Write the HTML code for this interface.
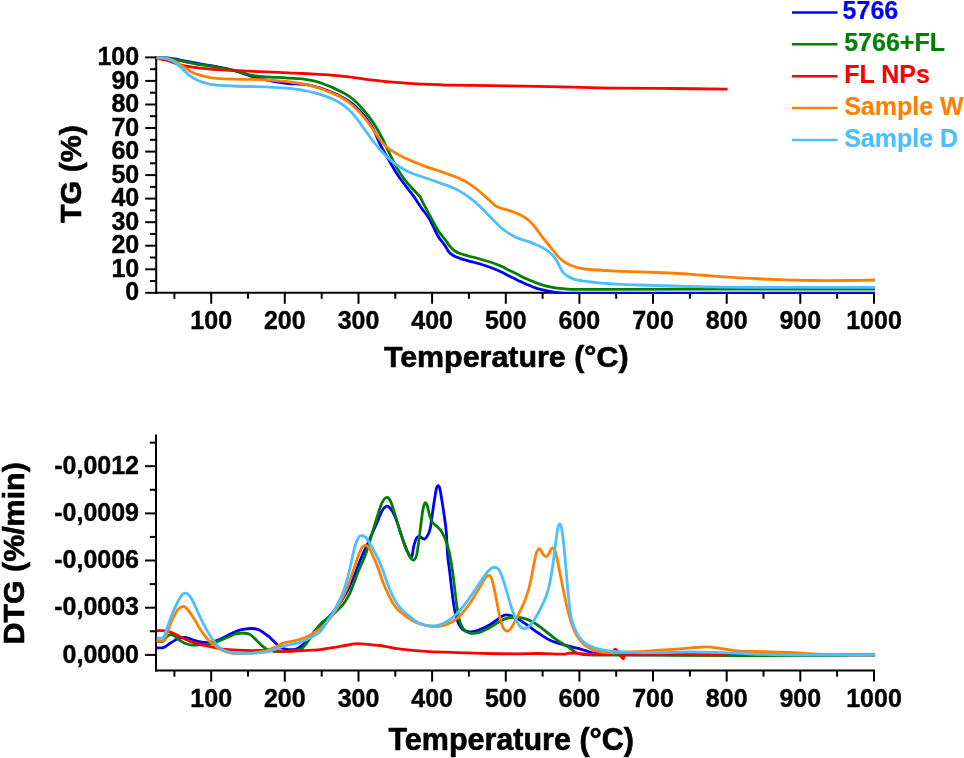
<!DOCTYPE html><html><head><meta charset="utf-8"><title>TG / DTG</title>
<style>html,body{margin:0;padding:0;background:#fff}svg{display:block;filter:blur(0.35px)}</style></head><body>
<svg width="964" height="758" viewBox="0 0 964 758">
<rect width="964" height="758" fill="#fff"/>
<g stroke="#000" stroke-width="2" fill="none"><line x1="174.4" y1="292.8" x2="174.4" y2="298.8"/><line x1="211.2" y1="292.8" x2="211.2" y2="303.8"/><line x1="248.0" y1="292.8" x2="248.0" y2="298.8"/><line x1="284.8" y1="292.8" x2="284.8" y2="303.8"/><line x1="321.7" y1="292.8" x2="321.7" y2="298.8"/><line x1="358.5" y1="292.8" x2="358.5" y2="303.8"/><line x1="395.3" y1="292.8" x2="395.3" y2="298.8"/><line x1="432.1" y1="292.8" x2="432.1" y2="303.8"/><line x1="468.9" y1="292.8" x2="468.9" y2="298.8"/><line x1="505.8" y1="292.8" x2="505.8" y2="303.8"/><line x1="542.6" y1="292.8" x2="542.6" y2="298.8"/><line x1="579.4" y1="292.8" x2="579.4" y2="303.8"/><line x1="616.2" y1="292.8" x2="616.2" y2="298.8"/><line x1="653.0" y1="292.8" x2="653.0" y2="303.8"/><line x1="689.9" y1="292.8" x2="689.9" y2="298.8"/><line x1="726.7" y1="292.8" x2="726.7" y2="303.8"/><line x1="763.5" y1="292.8" x2="763.5" y2="298.8"/><line x1="800.3" y1="292.8" x2="800.3" y2="303.8"/><line x1="837.1" y1="292.8" x2="837.1" y2="298.8"/><line x1="874.0" y1="292.8" x2="874.0" y2="303.8"/><line x1="145.2" y1="269.3" x2="156.2" y2="269.3"/><line x1="145.2" y1="245.7" x2="156.2" y2="245.7"/><line x1="145.2" y1="222.2" x2="156.2" y2="222.2"/><line x1="145.2" y1="198.6" x2="156.2" y2="198.6"/><line x1="145.2" y1="175.1" x2="156.2" y2="175.1"/><line x1="145.2" y1="151.6" x2="156.2" y2="151.6"/><line x1="145.2" y1="128.0" x2="156.2" y2="128.0"/><line x1="145.2" y1="104.5" x2="156.2" y2="104.5"/><line x1="145.2" y1="80.9" x2="156.2" y2="80.9"/><line x1="145.2" y1="57.4" x2="156.2" y2="57.4"/><line x1="150.0" y1="281.0" x2="156.2" y2="281.0"/><line x1="150.0" y1="257.5" x2="156.2" y2="257.5"/><line x1="150.0" y1="234.0" x2="156.2" y2="234.0"/><line x1="150.0" y1="210.4" x2="156.2" y2="210.4"/><line x1="150.0" y1="186.9" x2="156.2" y2="186.9"/><line x1="150.0" y1="163.3" x2="156.2" y2="163.3"/><line x1="150.0" y1="139.8" x2="156.2" y2="139.8"/><line x1="150.0" y1="116.2" x2="156.2" y2="116.2"/><line x1="150.0" y1="92.7" x2="156.2" y2="92.7"/><line x1="150.0" y1="69.2" x2="156.2" y2="69.2"/><line x1="156.2" y1="56.4" x2="156.2" y2="293.8"/><line x1="155.2" y1="292.8" x2="875.0" y2="292.8"/></g>
<g font-family="Liberation Sans, Arial, sans-serif" font-weight="bold" font-size="25" fill="#000" stroke="#000" stroke-width="0.4"><text x="211.2" y="329.3" text-anchor="middle">100</text><text x="284.8" y="329.3" text-anchor="middle">200</text><text x="358.5" y="329.3" text-anchor="middle">300</text><text x="432.1" y="329.3" text-anchor="middle">400</text><text x="505.8" y="329.3" text-anchor="middle">500</text><text x="579.4" y="329.3" text-anchor="middle">600</text><text x="653.0" y="329.3" text-anchor="middle">700</text><text x="726.7" y="329.3" text-anchor="middle">800</text><text x="800.3" y="329.3" text-anchor="middle">900</text><text x="874.0" y="329.3" text-anchor="middle">1000</text><text x="139.2" y="300.4" text-anchor="end">0</text><text x="139.2" y="276.9" text-anchor="end">10</text><text x="139.2" y="253.3" text-anchor="end">20</text><text x="139.2" y="229.8" text-anchor="end">30</text><text x="139.2" y="206.2" text-anchor="end">40</text><text x="139.2" y="182.7" text-anchor="end">50</text><text x="139.2" y="159.2" text-anchor="end">60</text><text x="139.2" y="135.6" text-anchor="end">70</text><text x="139.2" y="112.1" text-anchor="end">80</text><text x="139.2" y="88.5" text-anchor="end">90</text><text x="139.2" y="65.0" text-anchor="end">100</text></g>
<g stroke="#000" stroke-width="2"><line x1="145.2" y1="292.8" x2="156.2" y2="292.8"/></g>
<text x="506.2" y="367.3" text-anchor="middle" stroke="#000" stroke-width="0.6" stroke-linejoin="round" font-family="Liberation Sans, Arial, sans-serif" font-weight="bold" font-size="30.4">Temperature (°C)</text>
<text transform="translate(81,174) rotate(-90)" text-anchor="middle" stroke="#000" stroke-width="0.6" stroke-linejoin="round" font-family="Liberation Sans, Arial, sans-serif" font-weight="bold" font-size="30.4">TG (%)</text>
<g stroke="#000" stroke-width="2" fill="none"><line x1="174.4" y1="670.6" x2="174.4" y2="676.6"/><line x1="211.2" y1="670.6" x2="211.2" y2="681.6"/><line x1="248.0" y1="670.6" x2="248.0" y2="676.6"/><line x1="284.8" y1="670.6" x2="284.8" y2="681.6"/><line x1="321.7" y1="670.6" x2="321.7" y2="676.6"/><line x1="358.5" y1="670.6" x2="358.5" y2="681.6"/><line x1="395.3" y1="670.6" x2="395.3" y2="676.6"/><line x1="432.1" y1="670.6" x2="432.1" y2="681.6"/><line x1="468.9" y1="670.6" x2="468.9" y2="676.6"/><line x1="505.8" y1="670.6" x2="505.8" y2="681.6"/><line x1="542.6" y1="670.6" x2="542.6" y2="676.6"/><line x1="579.4" y1="670.6" x2="579.4" y2="681.6"/><line x1="616.2" y1="670.6" x2="616.2" y2="676.6"/><line x1="653.0" y1="670.6" x2="653.0" y2="681.6"/><line x1="689.9" y1="670.6" x2="689.9" y2="676.6"/><line x1="726.7" y1="670.6" x2="726.7" y2="681.6"/><line x1="763.5" y1="670.6" x2="763.5" y2="676.6"/><line x1="800.3" y1="670.6" x2="800.3" y2="681.6"/><line x1="837.1" y1="670.6" x2="837.1" y2="676.6"/><line x1="874.0" y1="670.6" x2="874.0" y2="681.6"/><line x1="145.0" y1="654.9" x2="156.0" y2="654.9"/><line x1="145.0" y1="607.7" x2="156.0" y2="607.7"/><line x1="145.0" y1="560.5" x2="156.0" y2="560.5"/><line x1="145.0" y1="513.4" x2="156.0" y2="513.4"/><line x1="145.0" y1="466.2" x2="156.0" y2="466.2"/><line x1="149.8" y1="631.3" x2="156.0" y2="631.3"/><line x1="149.8" y1="584.1" x2="156.0" y2="584.1"/><line x1="149.8" y1="536.9" x2="156.0" y2="536.9"/><line x1="149.8" y1="489.8" x2="156.0" y2="489.8"/><line x1="149.8" y1="442.6" x2="156.0" y2="442.6"/><line x1="156.0" y1="434.4" x2="156.0" y2="671.6"/><line x1="155.0" y1="670.6" x2="875.0" y2="670.6"/></g>
<g font-family="Liberation Sans, Arial, sans-serif" font-weight="bold" font-size="25" fill="#000" stroke="#000" stroke-width="0.4"><text x="211.2" y="706.6" text-anchor="middle">100</text><text x="284.8" y="706.6" text-anchor="middle">200</text><text x="358.5" y="706.6" text-anchor="middle">300</text><text x="432.1" y="706.6" text-anchor="middle">400</text><text x="505.8" y="706.6" text-anchor="middle">500</text><text x="579.4" y="706.6" text-anchor="middle">600</text><text x="653.0" y="706.6" text-anchor="middle">700</text><text x="726.7" y="706.6" text-anchor="middle">800</text><text x="800.3" y="706.6" text-anchor="middle">900</text><text x="874.0" y="706.6" text-anchor="middle">1000</text><text x="139.0" y="662.5" text-anchor="end">0,0000</text><text x="139.0" y="615.3" text-anchor="end">-0,0003</text><text x="139.0" y="568.1" text-anchor="end">-0,0006</text><text x="139.0" y="521.0" text-anchor="end">-0,0009</text><text x="139.0" y="473.8" text-anchor="end">-0,0012</text></g>
<text x="511.2" y="750.4" text-anchor="middle" stroke="#000" stroke-width="0.6" stroke-linejoin="round" font-family="Liberation Sans, Arial, sans-serif" font-weight="bold" font-size="30.5">Temperature (°C)</text>
<text transform="translate(24.0,553.4) rotate(-90)" text-anchor="middle" stroke="#000" stroke-width="0.6" stroke-linejoin="round" font-family="Liberation Sans, Arial, sans-serif" font-weight="bold" font-size="30.4">DTG (%/min)</text>
<clipPath id="ct"><rect x="155.0" y="40.0" width="720.1" height="254.0"/></clipPath>
<g clip-path="url(#ct)" fill="none" stroke-width="2.8" stroke-linejoin="round" stroke-linecap="butt">
<path stroke="#0000ff" d="M156.6 58.0 C158.3 58.0 163.5 57.8 166.6 58.0 C169.7 58.2 172.1 58.6 174.9 59.0 C177.7 59.4 179.0 59.8 183.2 60.6 C187.3 61.4 194.3 62.9 199.8 63.9 C205.3 64.9 210.9 65.5 216.4 66.6 C221.9 67.6 227.5 68.7 233.0 70.2 C238.5 71.7 245.4 74.4 249.6 75.7 C253.8 77.0 255.1 77.2 257.9 77.9 C260.7 78.6 263.4 79.3 266.2 79.9 C269.0 80.5 271.7 81.0 274.5 81.5 C277.3 82.0 280.0 82.4 282.8 82.8 C285.6 83.2 288.5 83.6 291.1 83.8 C293.7 84.0 295.7 83.9 298.3 84.0 C300.9 84.1 303.8 84.2 306.6 84.6 C309.4 85.0 312.1 85.9 314.9 86.6 C317.7 87.3 320.4 88.1 323.2 89.0 C326.0 89.9 328.7 91.0 331.5 92.2 C334.3 93.4 337.0 94.5 339.8 95.9 C342.6 97.3 345.3 98.8 348.1 100.7 C350.9 102.6 353.6 104.7 356.4 107.3 C359.2 109.9 361.9 112.9 364.7 116.4 C367.5 119.9 370.4 123.9 373.0 128.5 C375.6 133.1 377.4 139.0 380.0 144.1 C382.6 149.2 385.5 154.2 388.3 159.1 C391.1 163.9 393.8 168.9 396.6 173.2 C399.4 177.5 402.1 181.1 404.9 184.8 C407.7 188.5 410.4 191.7 413.2 195.6 C416.0 199.5 418.7 204.0 421.5 208.0 C424.3 212.0 427.0 215.0 429.8 219.7 C432.6 224.4 435.6 232.0 438.1 236.3 C440.6 240.6 443.2 242.9 445.0 245.6 C446.8 248.2 447.6 250.5 449.1 252.2 C450.6 253.9 452.3 255.0 454.1 256.0 C455.9 257.0 457.5 257.5 459.9 258.3 C462.2 259.1 465.4 260.0 468.2 260.8 C471.0 261.6 473.7 262.2 476.5 263.0 C479.3 263.8 482.0 264.6 484.8 265.5 C487.6 266.4 490.3 267.4 493.1 268.5 C495.9 269.6 498.6 270.8 501.4 272.1 C504.2 273.4 506.9 274.9 509.7 276.3 C512.5 277.7 515.2 279.1 518.0 280.4 C520.8 281.7 523.5 283.0 526.3 284.2 C529.1 285.4 531.8 286.7 534.6 287.6 C537.4 288.6 540.1 289.2 542.9 289.9 C545.7 290.6 548.4 291.2 551.2 291.7 C554.0 292.2 555.9 292.5 559.5 292.8 C563.1 293.1 566.0 293.2 572.8 293.3 C579.5 293.4 549.6 293.3 600.0 293.3 C650.4 293.3 829.2 293.3 875.0 293.3"/>
<path stroke="#008000" d="M156.6 58.0 C158.3 58.0 163.5 57.9 166.6 58.2 C169.7 58.5 172.1 59.1 174.9 59.6 C177.7 60.1 179.0 60.6 183.2 61.4 C187.3 62.2 194.3 63.6 199.8 64.6 C205.3 65.5 212.2 66.4 216.4 67.1 C220.6 67.8 221.9 68.0 224.7 68.6 C227.5 69.1 230.2 69.8 233.0 70.4 C235.8 71.0 238.5 71.7 241.3 72.4 C244.1 73.2 246.8 74.3 249.6 74.9 C252.4 75.5 255.1 75.9 257.9 76.2 C260.7 76.5 262.0 76.7 266.2 76.9 C270.4 77.2 278.8 77.5 282.8 77.7 C286.8 77.9 287.4 78.0 290.0 78.2 C292.6 78.4 295.5 78.5 298.3 78.7 C301.1 78.9 303.8 79.2 306.6 79.6 C309.4 80.0 312.1 80.5 314.9 81.2 C317.7 81.9 320.4 82.7 323.2 83.7 C326.0 84.7 328.7 85.9 331.5 87.1 C334.3 88.3 337.0 89.6 339.8 91.0 C342.6 92.4 345.3 93.8 348.1 95.7 C350.9 97.6 353.6 99.7 356.4 102.3 C359.2 104.9 361.9 108.2 364.7 111.5 C367.5 114.8 370.2 118.0 373.0 122.2 C375.8 126.4 378.8 131.7 381.3 136.5 C383.9 141.3 385.8 145.8 388.3 151.0 C390.9 156.2 393.8 162.6 396.6 167.4 C399.4 172.2 402.1 176.1 404.9 179.8 C407.7 183.5 410.7 186.7 413.2 189.5 C415.7 192.3 418.1 194.1 419.8 196.4 C421.5 198.7 421.5 199.9 423.2 203.1 C424.9 206.3 427.3 210.9 429.8 215.5 C432.3 220.1 435.6 226.5 438.1 230.5 C440.6 234.5 443.0 236.8 445.0 239.5 C447.0 242.2 448.5 244.6 450.0 246.4 C451.5 248.2 452.5 249.3 454.1 250.5 C455.8 251.7 457.5 252.6 459.9 253.5 C462.2 254.4 465.4 255.2 468.2 256.0 C471.0 256.8 473.7 257.2 476.5 258.0 C479.3 258.8 482.0 259.7 484.8 260.5 C487.6 261.3 490.3 262.0 493.1 263.0 C495.9 264.0 498.6 265.1 501.4 266.3 C504.2 267.6 506.9 269.1 509.7 270.5 C512.5 271.9 515.2 273.2 518.0 274.6 C520.8 276.0 523.5 277.6 526.3 278.8 C529.1 280.1 531.8 281.1 534.6 282.1 C537.4 283.2 540.1 284.3 542.9 285.1 C545.7 285.9 548.4 286.6 551.2 287.1 C554.0 287.7 556.7 288.1 559.5 288.4 C562.3 288.7 565.0 288.9 567.8 289.1 C570.6 289.3 570.7 289.3 576.1 289.4 C581.5 289.4 579.4 289.4 600.0 289.4 C620.6 289.4 654.2 289.2 700.0 289.2 C745.8 289.2 845.8 289.2 875.0 289.2"/>
<path stroke="#ff0000" d="M156.6 58.3 C158.3 58.6 163.5 59.4 166.6 60.2 C169.7 61.0 172.1 62.2 174.9 63.1 C177.7 64.0 179.0 64.8 183.2 65.6 C187.3 66.4 194.3 67.5 199.8 68.2 C205.3 68.9 210.9 69.2 216.4 69.6 C221.9 70.0 227.5 70.1 233.0 70.4 C238.5 70.7 244.1 71.0 249.6 71.2 C255.1 71.5 260.7 71.7 266.2 71.9 C271.7 72.1 277.3 72.3 282.8 72.6 C288.3 72.8 295.4 73.2 299.4 73.4 C303.4 73.6 302.6 73.4 306.6 73.6 C310.6 73.8 317.7 74.2 323.2 74.6 C328.7 75.0 334.3 75.4 339.8 75.9 C345.3 76.5 350.9 77.2 356.4 77.9 C361.9 78.6 367.5 79.5 373.0 80.2 C378.5 80.9 384.1 81.4 389.6 81.9 C395.1 82.4 400.7 82.8 406.2 83.2 C411.7 83.6 417.3 83.8 422.8 84.1 C428.3 84.3 434.9 84.5 439.4 84.7 C443.9 84.9 438.8 84.9 450.0 85.1 C461.2 85.3 485.9 85.6 506.4 85.9 C526.9 86.2 554.0 86.8 572.8 87.2 C591.6 87.6 602.7 88.0 619.3 88.2 C635.9 88.4 654.4 88.3 672.4 88.5 C690.4 88.7 718.3 89.1 727.5 89.2"/>
<path stroke="#ff8000" d="M156.6 57.9 C158.3 58.0 163.5 57.7 166.6 58.3 C169.7 58.9 172.1 59.9 174.9 61.3 C177.7 62.7 180.4 64.8 183.2 66.6 C186.0 68.4 188.7 70.5 191.5 71.9 C194.3 73.3 197.0 74.3 199.8 75.2 C202.6 76.1 205.3 76.7 208.1 77.2 C210.9 77.7 212.2 78.1 216.4 78.4 C220.6 78.7 227.5 79.0 233.0 79.2 C238.5 79.4 244.1 79.3 249.6 79.4 C255.1 79.5 260.7 79.6 266.2 79.9 C271.7 80.2 278.8 80.9 282.8 81.2 C286.8 81.5 287.4 81.7 290.0 82.0 C292.6 82.3 295.5 82.7 298.3 83.1 C301.1 83.5 303.8 84.0 306.6 84.6 C309.4 85.2 312.1 86.1 314.9 86.9 C317.7 87.7 320.4 88.5 323.2 89.5 C326.0 90.5 328.7 91.7 331.5 92.9 C334.3 94.1 337.0 95.3 339.8 96.8 C342.6 98.3 345.3 99.8 348.1 101.8 C350.9 103.8 353.6 106.3 356.4 109.0 C359.2 111.7 361.9 114.7 364.7 118.1 C367.5 121.5 370.2 125.5 373.0 129.4 C375.8 133.3 378.8 138.3 381.3 141.5 C383.9 144.7 385.8 146.3 388.3 148.3 C390.9 150.3 393.8 152.0 396.6 153.6 C399.4 155.2 402.1 156.6 404.9 157.9 C407.7 159.2 410.4 160.4 413.2 161.6 C416.0 162.8 418.7 163.8 421.5 164.9 C424.3 166.0 427.0 166.9 429.8 167.9 C432.6 168.9 435.3 169.8 438.1 170.7 C440.9 171.6 443.6 172.5 446.4 173.5 C449.2 174.5 451.9 175.4 454.7 176.5 C457.5 177.6 460.2 178.9 463.0 180.3 C465.8 181.7 468.5 183.2 471.3 185.1 C474.1 187.0 476.8 189.2 479.6 191.5 C482.4 193.8 485.4 196.6 487.9 198.9 C490.4 201.2 492.6 203.6 494.5 205.1 C496.4 206.6 497.6 206.9 499.5 207.7 C501.4 208.5 503.9 209.0 506.1 209.7 C508.3 210.4 510.3 210.8 512.8 211.7 C515.3 212.6 518.6 214.0 521.1 215.3 C523.6 216.7 525.8 217.9 528.0 219.8 C530.2 221.7 532.4 223.9 534.6 226.5 C536.8 229.1 539.0 232.7 541.2 235.6 C543.4 238.5 545.7 241.1 547.9 243.9 C550.1 246.7 552.6 249.8 554.5 252.2 C556.4 254.5 557.6 256.2 559.5 258.0 C561.4 259.8 563.9 261.7 566.1 263.0 C568.3 264.3 570.3 265.1 572.8 266.0 C575.3 266.9 578.3 267.7 581.1 268.3 C583.9 268.9 585.1 269.1 589.4 269.5 C593.6 269.9 601.0 270.2 606.6 270.5 C612.2 270.8 617.7 271.2 623.2 271.4 C628.7 271.6 634.3 271.7 639.8 271.9 C645.3 272.1 650.9 272.3 656.4 272.5 C661.9 272.7 667.5 272.9 673.0 273.2 C678.5 273.5 684.1 273.8 689.6 274.2 C695.1 274.6 700.7 275.1 706.2 275.5 C711.7 275.9 717.3 276.4 722.8 276.8 C728.3 277.2 732.7 277.4 739.4 277.8 C746.1 278.2 756.5 278.7 763.2 279.0 C769.9 279.3 774.3 279.5 779.8 279.7 C785.3 279.9 790.9 280.1 796.4 280.2 C801.9 280.3 804.7 280.4 813.0 280.5 C821.3 280.6 837.9 280.5 846.2 280.5 C854.5 280.5 858.0 280.4 862.8 280.3 C867.6 280.2 873.0 280.1 875.0 280.0"/>
<path stroke="#4dbeff" d="M156.6 57.9 C158.3 58.0 163.5 57.9 166.6 58.6 C169.7 59.4 172.1 60.5 174.9 62.4 C177.7 64.3 180.4 67.5 183.2 69.9 C186.0 72.3 188.7 75.0 191.5 76.9 C194.3 78.8 197.0 80.1 199.8 81.2 C202.6 82.3 205.3 83.1 208.1 83.8 C210.9 84.5 212.2 84.8 216.4 85.2 C220.6 85.6 227.5 85.8 233.0 86.0 C238.5 86.2 244.1 86.4 249.6 86.5 C255.1 86.6 260.7 86.6 266.2 86.8 C271.7 87.0 278.8 87.5 282.8 87.8 C286.8 88.1 287.4 88.2 290.0 88.5 C292.6 88.8 295.5 89.1 298.3 89.5 C301.1 89.9 303.8 90.4 306.6 91.0 C309.4 91.6 312.1 92.2 314.9 92.9 C317.7 93.6 320.4 94.5 323.2 95.4 C326.0 96.3 328.7 97.3 331.5 98.5 C334.3 99.7 337.0 101.0 339.8 102.8 C342.6 104.5 345.3 106.5 348.1 109.0 C350.9 111.5 353.6 114.6 356.4 118.1 C359.2 121.5 361.9 125.9 364.7 129.7 C367.5 133.5 370.2 137.4 373.0 141.0 C375.8 144.6 378.8 148.1 381.3 151.0 C383.9 153.9 385.8 156.0 388.3 158.3 C390.9 160.6 393.8 163.0 396.6 164.9 C399.4 166.8 402.1 168.4 404.9 169.9 C407.7 171.4 410.4 172.6 413.2 173.7 C416.0 174.8 418.7 175.5 421.5 176.5 C424.3 177.5 427.0 178.5 429.8 179.5 C432.6 180.5 435.3 181.4 438.1 182.3 C440.9 183.2 443.6 184.1 446.4 185.1 C449.2 186.1 451.9 187.3 454.7 188.6 C457.5 189.9 460.2 191.4 463.0 193.1 C465.8 194.8 468.5 196.7 471.3 198.9 C474.1 201.1 476.8 203.5 479.6 206.1 C482.4 208.7 485.1 211.6 487.9 214.4 C490.7 217.2 493.4 220.3 496.2 223.0 C499.0 225.7 501.7 228.4 504.5 230.5 C507.3 232.6 510.3 234.4 512.8 235.8 C515.3 237.2 517.2 238.0 519.7 238.9 C522.2 239.8 525.2 240.4 528.0 241.4 C530.8 242.4 533.5 243.4 536.3 244.7 C539.1 245.9 542.1 247.4 544.6 248.9 C547.1 250.4 549.3 252.1 551.2 253.9 C553.1 255.7 554.8 257.6 556.2 259.7 C557.6 261.8 558.4 264.2 559.5 266.3 C560.6 268.4 561.4 270.4 562.8 272.1 C564.2 273.8 565.9 275.1 567.8 276.3 C569.7 277.5 571.9 278.5 574.4 279.3 C576.9 280.1 579.9 280.4 582.7 280.9 C585.5 281.3 587.0 281.6 591.0 282.0 C595.0 282.4 601.2 283.1 606.6 283.5 C612.0 283.9 617.7 284.1 623.2 284.3 C628.7 284.6 634.3 284.8 639.8 285.0 C645.3 285.2 650.9 285.3 656.4 285.5 C661.9 285.7 667.5 285.8 673.0 286.0 C678.5 286.2 684.1 286.4 689.6 286.5 C695.1 286.6 700.7 286.7 706.2 286.8 C711.7 286.9 715.5 287.0 722.8 287.1 C730.1 287.2 724.6 287.3 750.0 287.3 C775.4 287.3 854.2 287.3 875.0 287.3"/>
</g>
<clipPath id="cb"><rect x="155.0" y="434.4" width="720.5" height="237.2"/></clipPath>
<g clip-path="url(#cb)" fill="none" stroke-width="2.8" stroke-linejoin="round" stroke-linecap="butt">
<path stroke="#0000ff" d="M156.5 647.7 C157.6 647.7 161.0 648.3 163.1 647.7 C165.2 647.1 167.0 645.3 168.9 644.1 C170.8 642.9 173.0 641.4 174.7 640.4 C176.4 639.4 177.3 638.8 179.0 638.3 C180.7 637.8 183.0 637.4 184.9 637.5 C186.8 637.6 188.5 638.4 190.7 639.0 C192.9 639.6 195.0 640.8 197.9 641.4 C200.8 642.0 205.2 642.6 208.1 642.6 C211.0 642.6 213.0 642.0 215.4 641.2 C217.8 640.4 220.2 639.1 222.6 638.0 C225.0 636.9 227.5 635.5 229.9 634.3 C232.3 633.1 234.7 631.9 237.1 631.0 C239.5 630.1 242.0 629.5 244.4 629.1 C246.8 628.7 249.3 628.4 251.7 628.5 C254.1 628.6 256.5 628.8 258.9 629.8 C261.3 630.8 264.3 633.3 266.2 634.6 C268.1 635.9 268.4 636.0 270.0 637.5 C271.6 639.0 273.9 641.6 275.8 643.3 C277.7 645.0 279.4 646.7 281.6 647.7 C283.8 648.8 286.5 649.4 288.9 649.6 C291.3 649.8 293.9 649.8 296.1 649.1 C298.3 648.4 299.9 647.1 301.9 645.5 C303.8 643.9 305.6 642.1 307.8 639.7 C310.0 637.3 312.6 633.8 315.0 631.0 C317.4 628.2 320.1 625.2 322.3 623.0 C324.5 620.8 325.9 620.2 328.1 617.9 C330.3 615.6 333.0 612.4 335.4 609.2 C337.8 606.1 340.4 602.4 342.6 599.0 C344.8 595.6 346.7 592.3 348.4 588.9 C350.1 585.5 351.5 581.9 352.8 578.7 C354.1 575.6 354.9 573.8 356.4 570.0 C357.9 566.2 360.1 560.5 362.0 556.0 C363.9 551.5 366.2 547.1 368.0 543.0 C369.8 538.9 371.4 535.1 373.0 531.5 C374.6 527.9 376.0 524.9 377.5 521.5 C379.0 518.1 380.2 513.9 381.8 511.3 C383.4 508.8 385.2 506.3 386.9 506.2 C388.6 506.1 390.4 508.3 392.0 510.6 C393.6 512.9 394.9 516.2 396.3 520.0 C397.8 523.8 399.3 529.0 400.7 533.1 C402.1 537.2 403.3 541.2 404.5 544.5 C405.7 547.8 406.9 550.6 408.0 552.7 C409.1 554.8 410.1 556.8 410.8 557.2 C411.5 557.6 411.8 556.7 412.3 555.0 C412.8 553.3 413.0 549.5 413.6 547.0 C414.2 544.5 415.0 541.4 415.7 539.7 C416.4 538.0 417.0 537.2 417.9 536.8 C418.8 536.4 419.9 537.0 421.0 537.4 C422.1 537.8 423.3 539.5 424.5 539.0 C425.7 538.5 427.1 536.4 428.1 534.6 C429.1 532.8 429.6 531.6 430.3 528.1 C431.0 524.6 431.7 518.5 432.4 513.6 C433.1 508.8 433.9 503.2 434.6 499.0 C435.3 494.8 435.9 490.4 436.5 488.2 C437.1 486.0 437.5 485.7 438.0 485.7 C438.5 485.7 439.1 485.7 439.7 488.2 C440.3 490.7 441.2 496.0 441.9 500.5 C442.6 505.0 443.4 509.9 444.1 515.0 C444.8 520.1 445.6 524.3 446.2 531.0 C446.8 537.7 447.1 548.6 447.6 555.0 C448.1 561.4 448.7 563.9 449.4 569.5 C450.1 575.1 450.9 582.6 451.6 588.4 C452.3 594.2 453.0 599.8 453.7 604.4 C454.4 609.0 455.0 612.7 455.9 616.0 C456.8 619.3 457.7 621.8 458.8 624.0 C459.9 626.2 460.8 627.8 462.4 629.1 C464.0 630.4 466.1 631.4 468.3 631.7 C470.5 632.1 473.1 631.8 475.5 631.2 C477.9 630.6 480.4 629.4 482.8 628.3 C485.2 627.2 487.6 626.2 490.0 624.7 C492.4 623.2 495.2 621.1 497.3 619.6 C499.4 618.1 500.8 616.8 502.4 616.0 C504.0 615.2 505.1 614.8 506.7 614.8 C508.3 614.8 509.7 615.2 511.8 616.0 C513.9 616.8 516.7 618.2 519.1 619.6 C521.5 621.0 523.7 622.5 526.3 624.3 C528.9 626.1 531.9 628.4 534.5 630.3 C537.1 632.1 539.4 633.8 541.8 635.4 C544.2 637.0 546.6 638.5 549.0 639.7 C551.4 640.9 553.9 641.8 556.3 642.6 C558.7 643.5 561.2 644.1 563.6 644.8 C566.0 645.5 568.4 646.1 570.8 646.7 C573.2 647.3 575.7 647.8 578.1 648.4 C580.5 649.0 583.0 649.9 585.4 650.6 C587.8 651.3 590.2 652.2 592.6 652.8 C595.0 653.3 597.0 653.6 599.9 653.9 C602.8 654.2 603.3 654.4 610.0 654.5 C616.7 654.6 595.8 654.7 640.0 654.8 C684.2 654.9 835.8 654.9 875.0 654.9"/>
<path stroke="#008000" d="M156.5 641.4 C157.6 641.4 161.4 642.0 163.1 641.2 C164.8 640.4 165.5 637.9 166.7 636.8 C167.9 635.7 169.0 634.7 170.3 634.6 C171.6 634.5 173.2 635.2 174.7 636.1 C176.1 637.0 177.3 638.5 179.0 639.7 C180.7 640.9 182.7 642.4 184.9 643.3 C187.1 644.2 189.4 644.9 192.1 645.1 C194.8 645.4 198.1 645.0 200.8 644.8 C203.5 644.6 205.7 644.5 208.1 644.1 C210.5 643.7 213.0 643.1 215.4 642.3 C217.8 641.5 220.2 640.4 222.6 639.4 C225.0 638.4 227.5 637.1 229.9 636.1 C232.3 635.1 234.7 634.1 237.1 633.6 C239.5 633.1 242.2 633.0 244.4 633.2 C246.6 633.4 248.3 633.5 250.2 634.6 C252.1 635.7 254.1 637.9 256.0 639.7 C257.9 641.5 259.9 643.9 261.8 645.5 C263.7 647.1 265.4 648.6 267.6 649.6 C269.8 650.6 272.1 651.3 274.9 651.6 C277.7 651.9 280.5 651.6 284.5 651.3 C288.5 651.0 295.9 650.6 299.0 649.9 C302.1 649.2 301.7 648.7 303.4 647.0 C305.1 645.3 307.3 642.4 309.2 639.7 C311.1 637.0 313.1 633.7 315.0 631.0 C316.9 628.3 318.6 625.9 320.8 623.7 C323.0 621.5 325.7 619.8 328.1 617.9 C330.5 616.0 333.0 614.3 335.4 612.1 C337.8 609.9 340.4 607.6 342.6 604.9 C344.8 602.2 346.7 599.2 348.4 596.1 C350.1 593.0 351.4 589.6 352.8 586.0 C354.2 582.4 355.9 577.5 357.1 574.4 C358.3 571.3 358.8 570.3 360.0 567.5 C361.2 564.7 362.9 561.3 364.4 557.5 C365.9 553.7 367.4 549.2 368.8 544.7 C370.2 540.2 371.7 535.0 373.1 530.2 C374.6 525.4 376.1 520.2 377.5 515.7 C378.9 511.2 380.4 506.3 381.8 503.3 C383.2 500.3 384.8 497.9 386.2 497.5 C387.6 497.1 389.1 498.3 390.5 501.1 C391.9 503.9 393.4 509.6 394.9 514.2 C396.3 518.8 397.8 524.1 399.2 528.7 C400.6 533.3 402.2 537.8 403.6 541.8 C405.0 545.8 406.5 549.9 407.8 552.8 C409.1 555.6 410.4 557.7 411.4 558.9 C412.4 560.1 413.1 560.5 414.0 560.0 C414.9 559.5 415.7 558.6 416.5 555.7 C417.3 552.8 417.9 547.7 418.6 542.6 C419.3 537.5 420.1 530.8 420.8 525.2 C421.5 519.6 422.3 513.0 423.0 509.2 C423.7 505.4 424.5 503.2 425.2 502.7 C425.9 502.2 426.7 504.2 427.4 506.3 C428.1 508.4 428.7 512.3 429.5 515.0 C430.3 517.7 431.2 520.4 432.4 522.3 C433.6 524.2 435.3 524.8 436.8 526.3 C438.3 527.8 439.8 528.8 441.2 531.0 C442.6 533.2 444.2 536.3 445.5 539.7 C446.8 543.1 448.0 546.3 449.1 551.3 C450.2 556.3 451.4 563.5 452.3 569.5 C453.2 575.5 453.8 581.2 454.5 587.0 C455.2 592.8 455.9 599.3 456.6 604.4 C457.3 609.5 458.0 613.8 458.8 617.4 C459.6 621.0 460.6 623.9 461.7 626.2 C462.8 628.5 463.8 630.0 465.4 631.2 C467.0 632.4 469.0 633.1 471.2 633.4 C473.4 633.6 475.8 633.4 478.4 632.7 C481.0 632.0 484.4 630.4 487.1 629.1 C489.8 627.8 492.0 626.2 494.4 624.7 C496.8 623.2 499.5 621.4 501.7 620.3 C503.9 619.2 505.6 618.7 507.5 618.2 C509.4 617.7 511.1 617.5 513.3 617.4 C515.5 617.3 518.2 617.3 520.5 617.6 C522.8 617.9 525.0 618.5 527.3 619.4 C529.6 620.3 532.1 621.5 534.5 623.0 C536.9 624.5 539.4 626.3 541.8 628.1 C544.2 629.9 546.6 632.0 549.0 633.9 C551.4 635.8 553.9 638.0 556.3 639.7 C558.7 641.4 561.4 642.8 563.6 644.1 C565.8 645.4 567.5 646.4 569.4 647.7 C571.3 649.0 573.3 651.0 575.2 652.1 C577.1 653.2 578.1 653.7 581.0 654.2 C583.9 654.7 579.4 654.8 592.6 655.0 C605.8 655.2 635.4 655.1 660.0 655.2 C684.6 655.3 704.2 655.6 740.0 655.6 C775.8 655.6 852.5 655.1 875.0 655.0"/>
<path stroke="#ff0000" d="M156.5 630.7 C157.6 630.7 161.0 630.5 163.1 630.7 C165.2 630.9 167.0 631.2 168.9 631.7 C170.8 632.2 172.3 632.8 174.7 633.9 C177.1 635.0 180.2 636.8 183.4 638.3 C186.6 639.8 189.5 641.3 193.6 642.6 C197.7 643.9 203.3 645.1 208.1 646.2 C212.9 647.3 217.8 648.4 222.6 649.1 C227.4 649.8 232.2 650.0 237.1 650.2 C241.9 650.5 246.8 650.6 251.7 650.6 C256.6 650.6 261.4 650.2 266.2 650.3 C271.0 650.4 276.4 650.8 280.7 651.0 C285.0 651.2 288.0 651.4 291.8 651.3 C295.6 651.2 299.0 650.8 303.4 650.6 C307.8 650.4 313.1 650.4 317.9 649.9 C322.7 649.4 327.8 648.4 332.4 647.7 C337.0 647.0 341.9 646.1 345.5 645.5 C349.1 644.9 351.5 644.1 354.2 643.8 C356.9 643.5 358.6 643.6 361.5 643.8 C364.4 644.0 368.6 644.5 371.7 644.8 C374.8 645.1 376.8 645.0 380.4 645.5 C384.0 646.0 388.5 647.3 393.4 648.1 C398.3 648.9 404.1 649.6 410.0 650.2 C415.9 650.8 421.0 651.2 429.0 651.6 C437.0 652.0 448.4 652.3 458.1 652.6 C467.8 652.9 477.4 653.3 487.1 653.5 C496.8 653.7 507.4 653.8 516.2 653.8 C525.0 653.8 532.1 653.4 540.0 653.5 C547.9 653.6 558.7 654.2 563.6 654.2 C568.5 654.2 564.6 653.2 569.4 653.2 C574.2 653.2 585.8 654.2 592.6 654.2 C599.4 654.2 606.6 653.8 610.0 653.5 C613.4 653.2 612.1 653.2 613.0 652.5 C613.9 651.8 614.3 649.2 615.1 649.1 C615.9 649.0 616.7 650.4 618.0 652.0 C619.3 653.6 621.5 658.2 623.1 658.6 C624.7 659.0 621.4 654.9 627.5 654.2 C633.6 653.5 643.3 654.3 660.0 654.4 C676.7 654.5 716.2 654.7 727.5 654.8"/>
<path stroke="#ff8000" d="M156.5 640.9 C157.6 640.9 161.4 641.8 163.1 640.6 C164.8 639.4 165.2 637.2 166.7 633.9 C168.1 630.6 170.0 624.8 171.8 620.8 C173.6 616.8 175.8 612.3 177.6 609.9 C179.4 607.5 181.2 606.9 182.7 606.6 C184.1 606.3 184.5 606.1 186.3 608.0 C188.1 609.9 191.2 614.2 193.6 617.9 C196.0 621.6 198.4 626.7 200.8 630.3 C203.2 633.9 205.7 637.1 208.1 639.7 C210.5 642.4 213.0 644.4 215.4 646.2 C217.8 648.0 220.2 649.5 222.6 650.6 C225.0 651.7 227.5 652.3 229.9 652.8 C232.3 653.3 233.5 653.5 237.1 653.5 C240.7 653.5 246.8 653.6 251.7 653.1 C256.6 652.6 261.9 651.8 266.2 650.6 C270.5 649.5 274.2 647.5 277.3 646.2 C280.4 644.9 282.1 643.4 284.5 642.6 C286.9 641.8 289.4 641.9 291.8 641.4 C294.2 640.9 296.6 640.4 299.0 639.7 C301.4 639.0 303.9 638.2 306.3 637.1 C308.7 636.0 311.2 634.7 313.6 633.2 C316.0 631.7 318.4 630.2 320.8 628.1 C323.2 626.0 325.7 623.7 328.1 620.8 C330.5 617.9 333.0 614.6 335.4 610.7 C337.8 606.8 340.4 602.0 342.6 597.6 C344.8 593.2 346.6 589.1 348.4 584.5 C350.2 579.9 351.9 574.6 353.5 570.0 C355.1 565.4 356.6 560.7 357.9 557.1 C359.2 553.5 360.3 550.2 361.5 548.3 C362.7 546.3 363.9 545.5 365.1 545.4 C366.3 545.3 367.5 545.8 368.8 547.6 C370.1 549.4 371.7 553.1 373.1 556.3 C374.6 559.4 375.8 562.0 377.5 566.5 C379.2 571.0 381.4 578.2 383.3 583.1 C385.2 588.0 387.2 592.2 389.1 596.1 C391.0 600.0 393.0 603.6 394.9 606.3 C396.8 609.0 398.6 610.4 400.7 612.3 C402.8 614.1 405.0 615.8 407.3 617.4 C409.6 619.0 412.1 620.6 414.5 621.8 C416.9 623.0 419.4 623.7 421.8 624.4 C424.2 625.1 426.6 625.9 429.0 626.2 C431.4 626.6 433.9 626.6 436.3 626.5 C438.7 626.4 441.2 626.1 443.6 625.4 C446.0 624.7 448.4 623.8 450.8 622.5 C453.2 621.2 455.7 619.6 458.1 617.4 C460.5 615.2 463.0 612.5 465.4 609.5 C467.8 606.5 470.2 603.0 472.6 599.3 C475.0 595.5 477.7 590.6 479.9 587.0 C482.1 583.4 484.2 579.5 485.7 577.5 C487.1 575.5 487.6 575.2 488.6 575.3 C489.6 575.4 490.5 575.8 491.5 578.2 C492.5 580.6 493.4 585.5 494.4 589.9 C495.4 594.3 496.3 599.6 497.3 604.4 C498.3 609.2 499.2 615.0 500.2 618.9 C501.2 622.8 502.0 625.5 503.1 627.6 C504.2 629.7 505.5 631.0 506.7 631.2 C507.9 631.5 509.1 630.7 510.4 629.1 C511.7 627.5 513.2 624.5 514.7 621.8 C516.2 619.1 517.5 616.5 519.1 613.1 C520.7 609.7 522.9 605.6 524.5 601.5 C526.1 597.4 527.7 592.8 528.9 588.4 C530.1 584.0 530.9 579.4 531.8 575.3 C532.6 571.2 533.3 567.3 534.0 563.7 C534.7 560.1 535.4 556.0 536.1 553.6 C536.8 551.2 537.6 549.9 538.3 549.2 C539.0 548.5 539.8 548.8 540.5 549.5 C541.2 550.2 541.9 552.4 542.7 553.6 C543.6 554.8 544.6 556.7 545.6 556.8 C546.6 556.9 547.6 555.6 548.5 554.3 C549.4 553.0 550.3 550.2 551.0 549.2 C551.7 548.2 552.1 547.8 552.8 548.0 C553.5 548.2 554.3 548.8 555.0 550.7 C555.7 552.6 556.4 555.5 557.2 559.4 C558.1 563.3 559.1 569.1 560.1 573.9 C561.1 578.7 562.1 584.0 563.0 588.4 C563.9 592.8 564.7 596.8 565.5 600.5 C566.3 604.2 566.9 606.8 567.9 610.7 C568.9 614.6 570.4 620.1 571.6 623.7 C572.8 627.3 573.9 629.7 575.2 632.4 C576.5 635.1 577.8 637.5 579.5 639.7 C581.2 641.9 583.2 643.9 585.4 645.5 C587.6 647.1 590.0 648.5 592.6 649.6 C595.2 650.7 597.9 651.6 601.3 652.1 C604.7 652.6 608.3 652.8 612.9 652.8 C617.5 652.8 623.8 652.3 628.9 652.1 C634.0 651.9 637.4 651.8 643.4 651.4 C649.4 651.0 657.2 650.4 664.9 649.9 C672.6 649.4 682.9 648.6 689.8 648.1 C696.6 647.6 700.6 646.8 706.0 646.9 C711.4 647.0 716.6 647.9 722.2 648.6 C727.8 649.3 732.6 650.6 739.6 651.1 C746.6 651.6 756.2 651.4 764.5 651.6 C772.8 651.8 781.1 652.0 789.4 652.4 C797.7 652.8 806.0 653.5 814.3 653.9 C822.6 654.3 829.0 654.4 839.1 654.6 C849.2 654.8 869.0 654.9 875.0 654.9"/>
<path stroke="#4dbeff" d="M156.5 638.0 C157.6 638.0 161.5 638.9 163.1 637.7 C164.7 636.5 164.6 634.8 166.0 631.0 C167.4 627.2 169.9 619.8 171.8 615.0 C173.7 610.2 175.9 605.3 177.6 602.0 C179.3 598.7 180.7 596.5 182.0 595.0 C183.3 593.5 184.4 593.1 185.6 593.2 C186.8 593.3 187.9 593.8 189.2 595.4 C190.5 597.0 191.7 598.8 193.6 602.7 C195.5 606.6 198.4 613.7 200.8 618.6 C203.2 623.5 205.7 628.3 208.1 632.4 C210.5 636.5 213.0 640.4 215.4 643.3 C217.8 646.2 220.2 648.1 222.6 649.6 C225.0 651.1 227.5 651.5 229.9 652.1 C232.3 652.7 233.5 652.9 237.1 653.1 C240.7 653.3 246.8 653.4 251.7 653.2 C256.6 653.0 261.9 652.9 266.2 652.1 C270.5 651.3 274.2 649.5 277.3 648.4 C280.4 647.3 282.1 646.5 284.5 645.8 C286.9 645.1 289.4 644.9 291.8 644.4 C294.2 643.9 296.6 643.4 299.0 642.6 C301.4 641.8 303.9 640.8 306.3 639.7 C308.7 638.6 311.2 637.6 313.6 636.1 C316.0 634.6 318.4 633.7 320.8 631.0 C323.2 628.3 325.7 623.9 328.1 620.1 C330.5 616.4 333.0 613.0 335.4 608.5 C337.8 604.0 340.7 597.9 342.6 593.2 C344.5 588.5 345.6 585.4 347.0 580.2 C348.4 575.0 350.0 567.8 351.3 562.1 C352.6 556.4 353.8 550.3 355.0 546.2 C356.2 542.1 357.5 539.1 358.6 537.4 C359.7 535.6 360.6 535.7 361.8 535.7 C363.0 535.7 364.4 536.0 365.8 537.4 C367.2 538.8 368.7 541.6 370.2 544.0 C371.7 546.4 373.2 549.2 374.6 552.0 C376.1 554.8 377.4 557.4 378.9 560.7 C380.3 564.0 382.1 568.4 383.3 571.6 C384.5 574.8 384.8 576.1 386.2 580.0 C387.6 583.9 390.1 590.6 392.0 594.7 C393.9 598.9 395.9 602.1 397.8 604.9 C399.7 607.7 402.0 609.8 403.6 611.4 C405.2 613.0 405.5 613.0 407.3 614.5 C409.1 616.0 412.1 618.7 414.5 620.3 C416.9 621.9 419.4 623.1 421.8 624.0 C424.2 624.9 426.6 625.4 429.0 625.7 C431.4 626.0 433.9 626.1 436.3 625.7 C438.7 625.3 441.2 624.4 443.6 623.3 C446.0 622.2 448.4 620.7 450.8 618.9 C453.2 617.1 455.7 614.9 458.1 612.4 C460.5 609.9 463.0 606.8 465.4 603.6 C467.8 600.5 470.2 597.0 472.6 593.5 C475.0 590.0 477.5 586.1 479.9 582.6 C482.3 579.1 485.2 574.8 487.1 572.4 C489.0 570.0 490.2 569.0 491.5 568.1 C492.8 567.2 493.9 567.1 495.1 567.3 C496.3 567.5 497.5 567.4 498.8 569.5 C500.1 571.6 501.7 575.6 503.1 579.7 C504.6 583.8 506.1 589.4 507.5 594.2 C508.9 599.0 510.4 604.4 511.8 608.7 C513.2 613.1 514.8 617.3 516.2 620.3 C517.7 623.3 519.1 625.5 520.5 626.9 C521.9 628.3 523.0 628.6 524.4 628.6 C525.8 628.6 527.0 628.1 528.7 626.6 C530.4 625.1 532.6 622.3 534.5 619.4 C536.4 616.5 538.3 613.2 540.3 609.2 C542.3 605.2 544.7 600.1 546.3 595.7 C547.9 591.3 548.8 587.7 549.9 582.6 C551.0 577.5 551.9 571.0 552.8 565.2 C553.6 559.4 554.3 553.4 555.0 547.8 C555.7 542.2 556.6 535.6 557.2 531.8 C557.8 528.0 558.3 526.5 558.7 525.2 C559.1 523.9 559.3 523.7 559.7 523.8 C560.1 523.9 560.6 524.2 561.1 526.0 C561.6 527.8 562.0 530.4 562.6 534.7 C563.2 539.1 563.9 545.8 564.5 552.1 C565.1 558.4 565.7 565.6 566.3 572.4 C566.9 579.2 567.5 586.7 568.1 592.8 C568.7 598.9 569.2 604.6 569.8 609.0 C570.4 613.4 570.7 616.0 571.6 619.4 C572.5 622.8 573.9 626.5 575.2 629.5 C576.5 632.5 577.8 635.2 579.5 637.5 C581.2 639.8 583.2 641.7 585.4 643.3 C587.6 644.9 590.0 646.0 592.6 647.0 C595.2 648.0 597.9 648.9 601.3 649.6 C604.7 650.3 608.3 650.9 612.9 651.3 C617.5 651.7 623.8 651.9 628.9 652.1 C634.0 652.3 638.2 652.4 643.4 652.5 C648.6 652.6 652.3 652.7 660.0 652.6 C667.7 652.5 680.7 651.9 689.8 651.9 C698.9 651.9 706.4 652.1 714.7 652.4 C723.0 652.6 731.3 653.1 739.6 653.4 C747.9 653.7 754.4 654.2 764.5 654.4 C774.6 654.6 781.6 654.7 800.0 654.8 C818.4 654.9 862.5 654.9 875.0 654.9"/>
</g>
<line x1="792" y1="12.4" x2="837.5" y2="12.4" stroke="#0000ff" stroke-width="2.5"/>
<text x="842.6" y="19.4" font-family="Liberation Sans, Arial, sans-serif" font-weight="bold" font-size="25" fill="#0000ff" stroke="#0000ff" stroke-width="0.2">5766</text>
<line x1="792" y1="44.3" x2="837.5" y2="44.3" stroke="#008000" stroke-width="2.5"/>
<text x="844.2" y="51.3" font-family="Liberation Sans, Arial, sans-serif" font-weight="bold" font-size="25" fill="#008000" stroke="#008000" stroke-width="0.2">5766+FL</text>
<line x1="792" y1="76.2" x2="837.5" y2="76.2" stroke="#ff0000" stroke-width="2.5"/>
<text x="844.2" y="83.2" font-family="Liberation Sans, Arial, sans-serif" font-weight="bold" font-size="25" fill="#ff0000" stroke="#ff0000" stroke-width="0.2">FL NPs</text>
<line x1="792" y1="108.1" x2="837.5" y2="108.1" stroke="#ff8000" stroke-width="2.5"/>
<text x="844.2" y="115.1" font-family="Liberation Sans, Arial, sans-serif" font-weight="bold" font-size="25" fill="#ff8000" stroke="#ff8000" stroke-width="0.2">Sample W</text>
<line x1="792" y1="140.0" x2="837.5" y2="140.0" stroke="#4dbeff" stroke-width="2.5"/>
<text x="844.2" y="147.0" font-family="Liberation Sans, Arial, sans-serif" font-weight="bold" font-size="25" fill="#4dbeff" stroke="#4dbeff" stroke-width="0.2">Sample D</text>
</svg></body></html>
